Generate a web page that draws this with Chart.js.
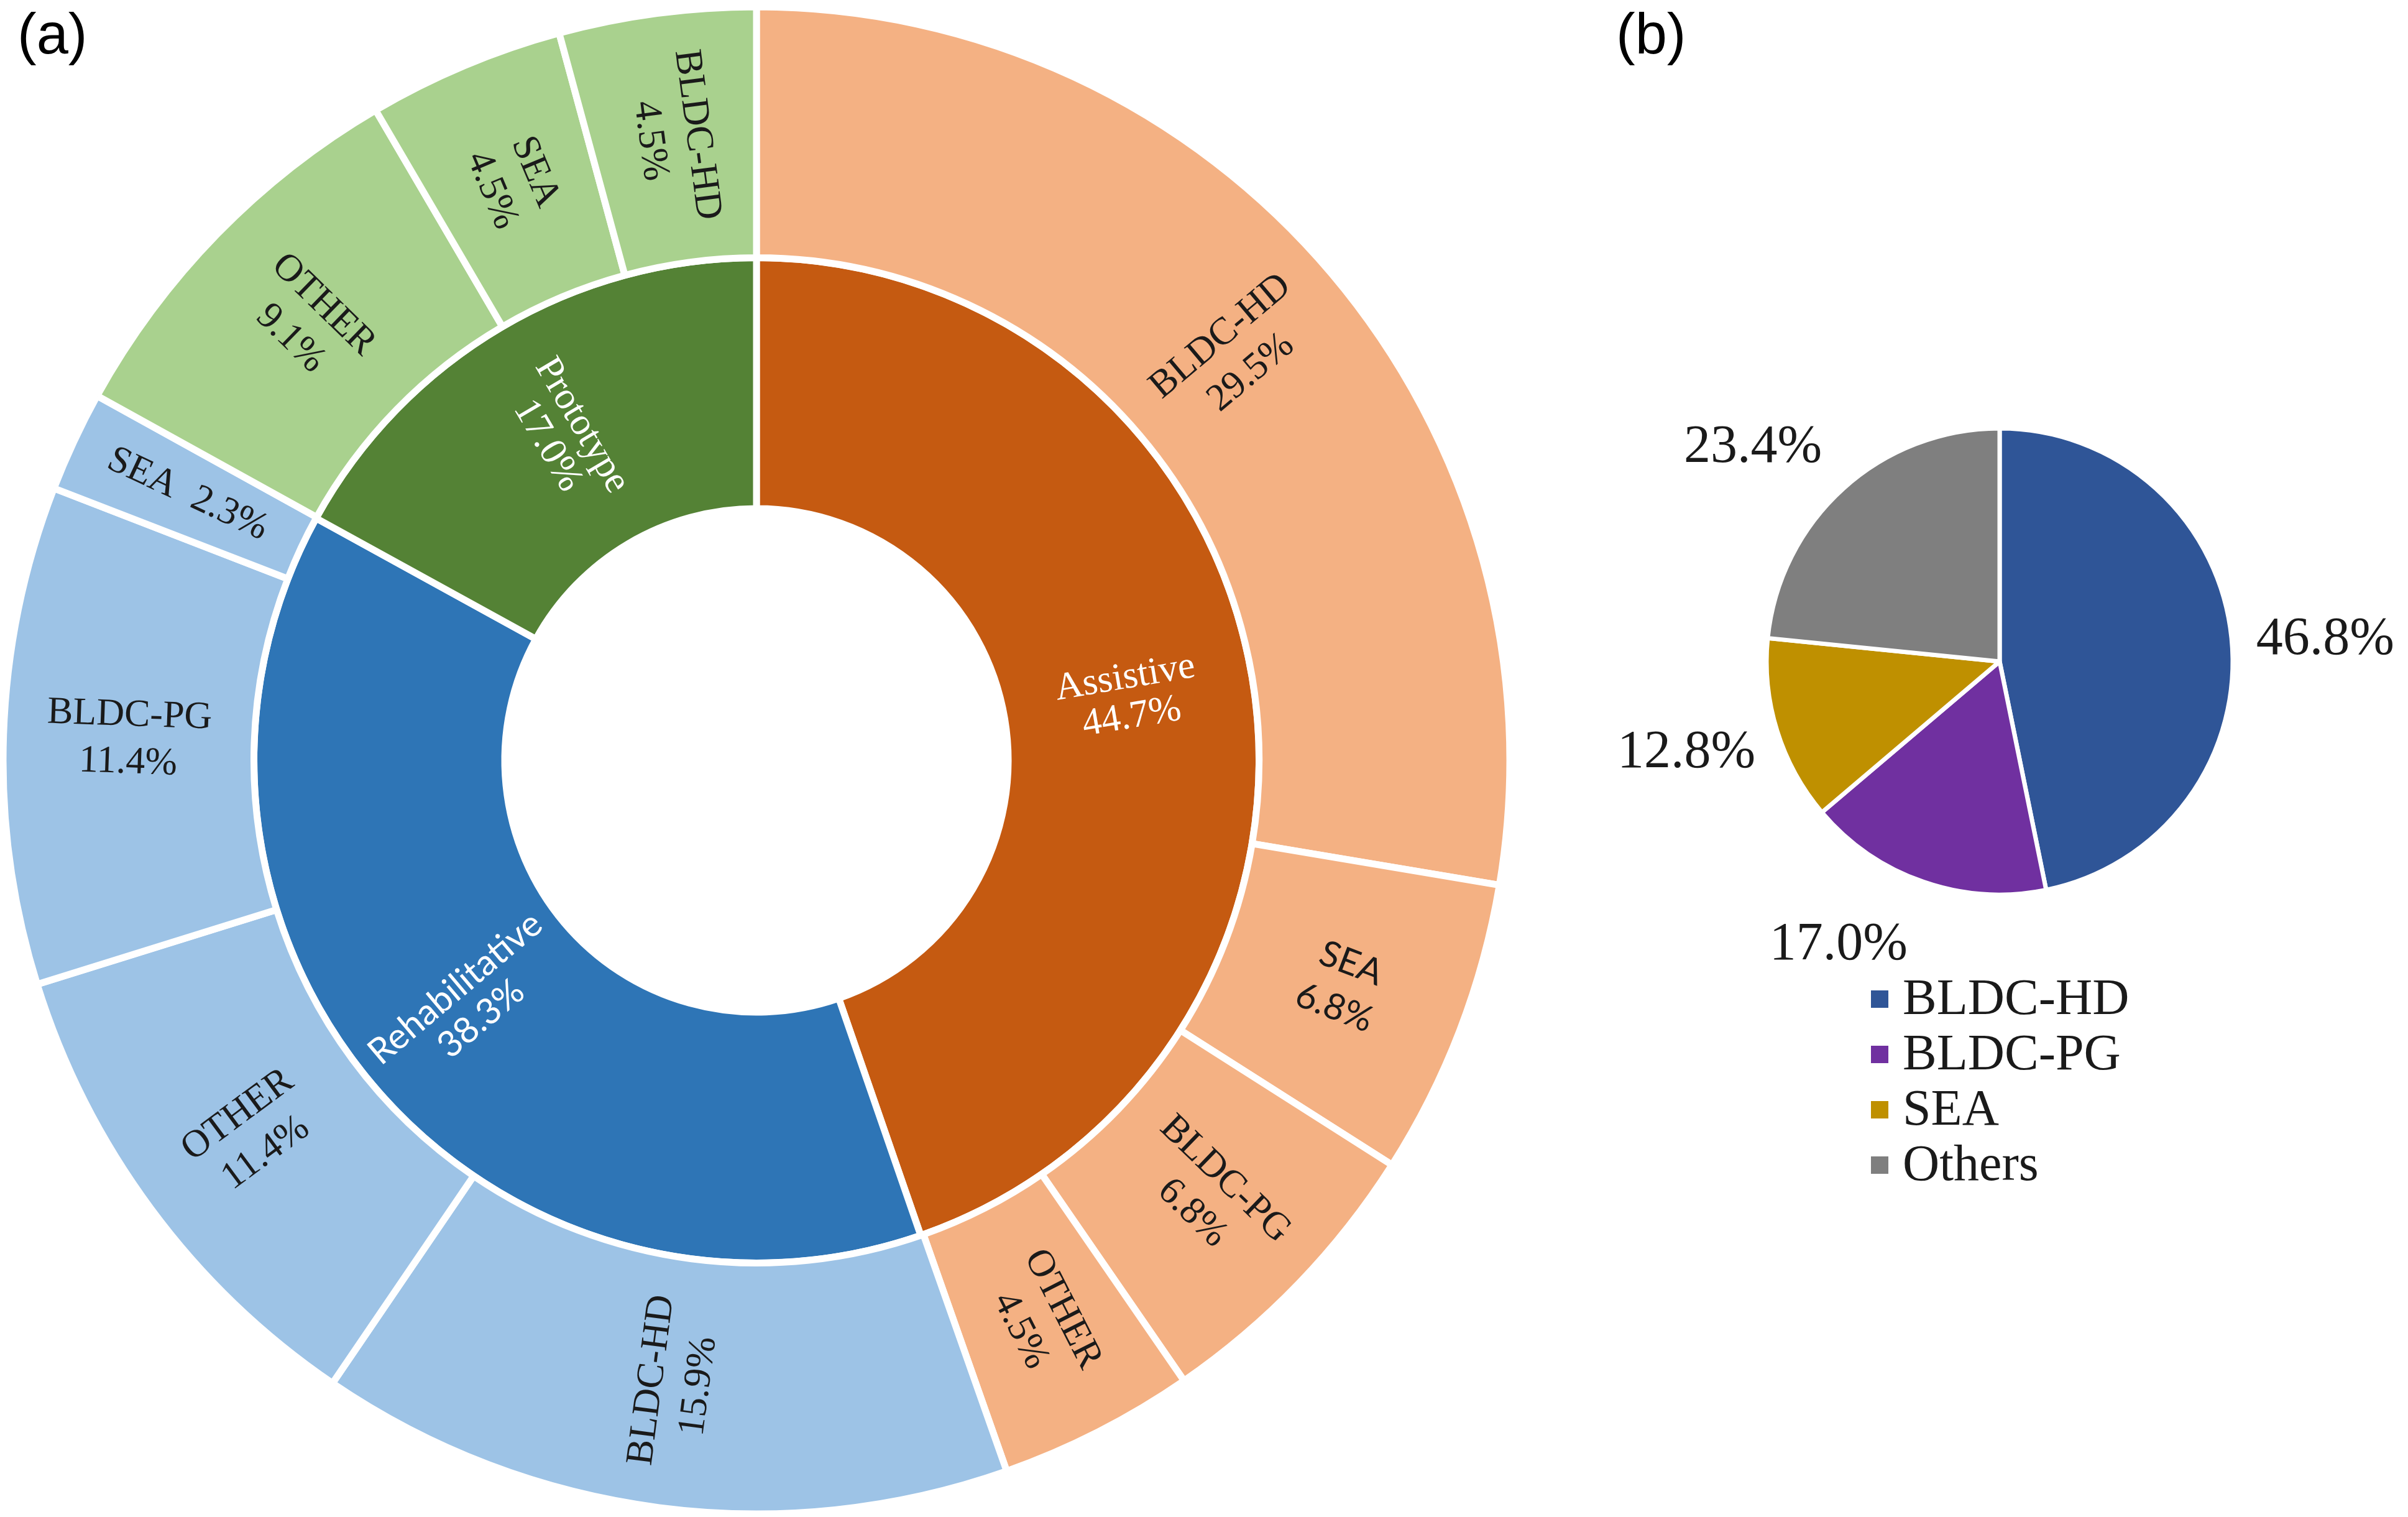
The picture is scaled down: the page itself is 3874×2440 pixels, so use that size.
<!DOCTYPE html>
<html>
<head>
<meta charset="utf-8">
<script src="https://cdn.jsdelivr.net/npm/chart.js@4.4.1/dist/chart.umd.min.js"></script>
<style>
    html, body { margin: 0; padding: 0; background: #fff; overflow: hidden; }
    #page { position: relative; width: 3874px; height: 2440px; }
    canvas { position: absolute; }
    #chart-a { left: 0; top: 0; }
    #chart-b { left: 2560px; top: 214px; }
    .panel-tag {
        position: absolute;
        font-family: "Liberation Sans", Arial, sans-serif;
        font-size: 92px;
        line-height: 1;
        color: #000;
    }
</style>
</head>
<body>
<div id="page">
    <canvas id="chart-a" width="2434" height="2446"></canvas>
    <canvas id="chart-b" width="1314" height="1700"></canvas>
    <div class="panel-tag" style="left:28px; top:8px;">(a)</div>
    <div class="panel-tag" style="left:2600px; top:8px;">(b)</div>
</div>
<script>
// (a) inner ring: application groups
const groupNames = ['Assistive', 'Rehabilitative', 'Prototype'];
const groupShares = [44.7, 38.3, 17.0];

// (a) outer ring: actuator type inside each group, clockwise from 12 o'clock
const subNames = ['BLDC-HD', 'SEA', 'BLDC-PG', 'OTHER',
                  'BLDC-HD', 'OTHER', 'BLDC-PG', 'SEA',
                  'OTHER', 'SEA', 'BLDC-HD'];
const subShares = [29.5, 6.8, 6.8, 4.5,
                   15.9, 11.4, 11.4, 2.3,
                   9.1, 4.5, 4.5];
const subGroup = [0, 0, 0, 0, 1, 1, 1, 1, 2, 2, 2];

// (b) actuator share overall
const motorNames = ['BLDC-HD', 'BLDC-PG', 'SEA', 'Others'];
const motorShares = [46.8, 17.0, 12.8, 23.4];

// Styles
const innerColors = ['#C55A11', '#2E75B6', '#548235'];
const outerColors = ['#F4B183', '#9DC3E6', '#A9D18E'];
const motorColors = ['#2F5597', '#7030A0', '#BF9000', '#7F7F7F'];
const SERIF = '"Liberation Serif", "Times New Roman", serif';
const SANS = 'Lato, "Liberation Sans", sans-serif';
const TEXT = '#1a1a1a';

// a couple of labels in the original were set in a sans face
const sansOuter = [1];
const sansInner = [1];
// excel nudged the pie labels a little off their mid angle (degrees)
const pieLabelShift = [2, 10.5, 1, -7];

function fmtPct(v) {
    return v.toFixed(1) + '%';
}

/**
 * Rotated labels for the sunburst rings
 */
const ringLabels = {
    id: 'ringLabels',
    afterDatasetsDraw(chart) {
        const ctx = chart.ctx;
        chart.data.datasets.forEach((ds, di) => {
            const isInner = di === 1;
            chart.getDatasetMeta(di).data.forEach((arc, i) => {
                const p = arc.getProps(['x', 'y', 'startAngle', 'endAngle', 'innerRadius', 'outerRadius'], true);
                const mid = (p.startAngle + p.endAngle) / 2;
                const r = (p.innerRadius + p.outerRadius) / 2;
                const cx = p.x + Math.cos(mid) * r;
                const cy = p.y + Math.sin(mid) * r;

                // radial text, flipped on the left half so it never reads upside down
                let rot = Math.atan2(Math.sin(mid), Math.cos(mid));
                if (rot > Math.PI / 2) rot -= Math.PI;
                else if (rot < -Math.PI / 2) rot += Math.PI;

                const name = isInner ? groupNames[i] : subNames[i];
                const pct = fmtPct(isInner ? groupShares[i] : subShares[i]);
                const arcLen = (p.endAngle - p.startAngle) * r;
                const lines = arcLen < 180 ? [name + '  ' + pct] : [name, pct];
                const sans = isInner ? sansInner.includes(i) : sansOuter.includes(i);

                ctx.save();
                ctx.translate(cx, cy);
                ctx.rotate(rot);
                ctx.font = (sans ? '58px ' + SANS : '62px ' + SERIF);
                ctx.fillStyle = isInner ? '#ffffff' : TEXT;
                ctx.textAlign = 'center';
                ctx.textBaseline = 'middle';
                const lh = isInner ? 64 : 76;
                lines.forEach((t, k) => {
                    ctx.fillText(t, 0, (k - (lines.length - 1) / 2) * lh);
                });
                ctx.restore();
            });
        });
    }
};

/**
 * Outside labels and legend for the pie
 */
const pieExtras = {
    id: 'pieExtras',
    afterDatasetsDraw(chart) {
        const ctx = chart.ctx;
        const arcs = chart.getDatasetMeta(0).data;
        ctx.save();
        ctx.font = '86px ' + SERIF;
        ctx.fillStyle = TEXT;
        ctx.textAlign = 'center';
        ctx.textBaseline = 'middle';
        let cx = 0, cy = 0;
        arcs.forEach((arc, i) => {
            const p = arc.getProps(['x', 'y', 'startAngle', 'endAngle', 'outerRadius'], true);
            cx = p.x; cy = p.y;
            const mid = (p.startAngle + p.endAngle) / 2 + pieLabelShift[i] * Math.PI / 180;
            const d = p.outerRadius + 150;
            ctx.fillText(fmtPct(chart.data.datasets[0].data[i]), p.x + Math.cos(mid) * d, p.y + Math.sin(mid) * d);
        });

        // legend, stacked under the pie
        const lx = cx - 207;
        const ly0 = cy + 543;
        const step = 89;
        ctx.font = '82px ' + SERIF;
        ctx.textAlign = 'left';
        chart.data.labels.forEach((name, i) => {
            const ly = ly0 + i * step;
            ctx.fillStyle = chart.data.datasets[0].backgroundColor[i];
            ctx.fillRect(lx, ly - 14, 28, 28);
            ctx.fillStyle = TEXT;
            ctx.fillText(name, lx + 51, ly + 2);
        });
        ctx.restore();
    }
};

const sunburst = new Chart(document.getElementById('chart-a'), {
    type: 'doughnut',
    data: {
        labels: subNames,
        datasets: [{
            data: subShares,
            backgroundColor: subGroup.map(g => outerColors[g]),
            borderColor: '#ffffff',
            borderWidth: 11
        }, {
            data: groupShares,
            backgroundColor: innerColors,
            borderColor: '#ffffff',
            borderWidth: 11
        }]
    },
    options: {
        responsive: false,
        devicePixelRatio: 1,
        animation: false,
        events: [],
        radius: 1212,
        cutout: (405 / 1212 * 100) + '%',
        plugins: {
            legend: { display: false },
            tooltip: { enabled: false }
        }
    },
    plugins: [ringLabels]
});

const motorPie = new Chart(document.getElementById('chart-b'), {
    type: 'pie',
    data: {
        labels: motorNames,
        datasets: [{
            data: motorShares,
            backgroundColor: motorColors,
            borderColor: '#ffffff',
            borderWidth: 7
        }]
    },
    options: {
        responsive: false,
        devicePixelRatio: 1,
        animation: false,
        events: [],
        radius: 375,
        plugins: {
            legend: { display: false },
            tooltip: { enabled: false }
        }
    },
    plugins: [pieExtras]
});
</script>
</body>
</html>
